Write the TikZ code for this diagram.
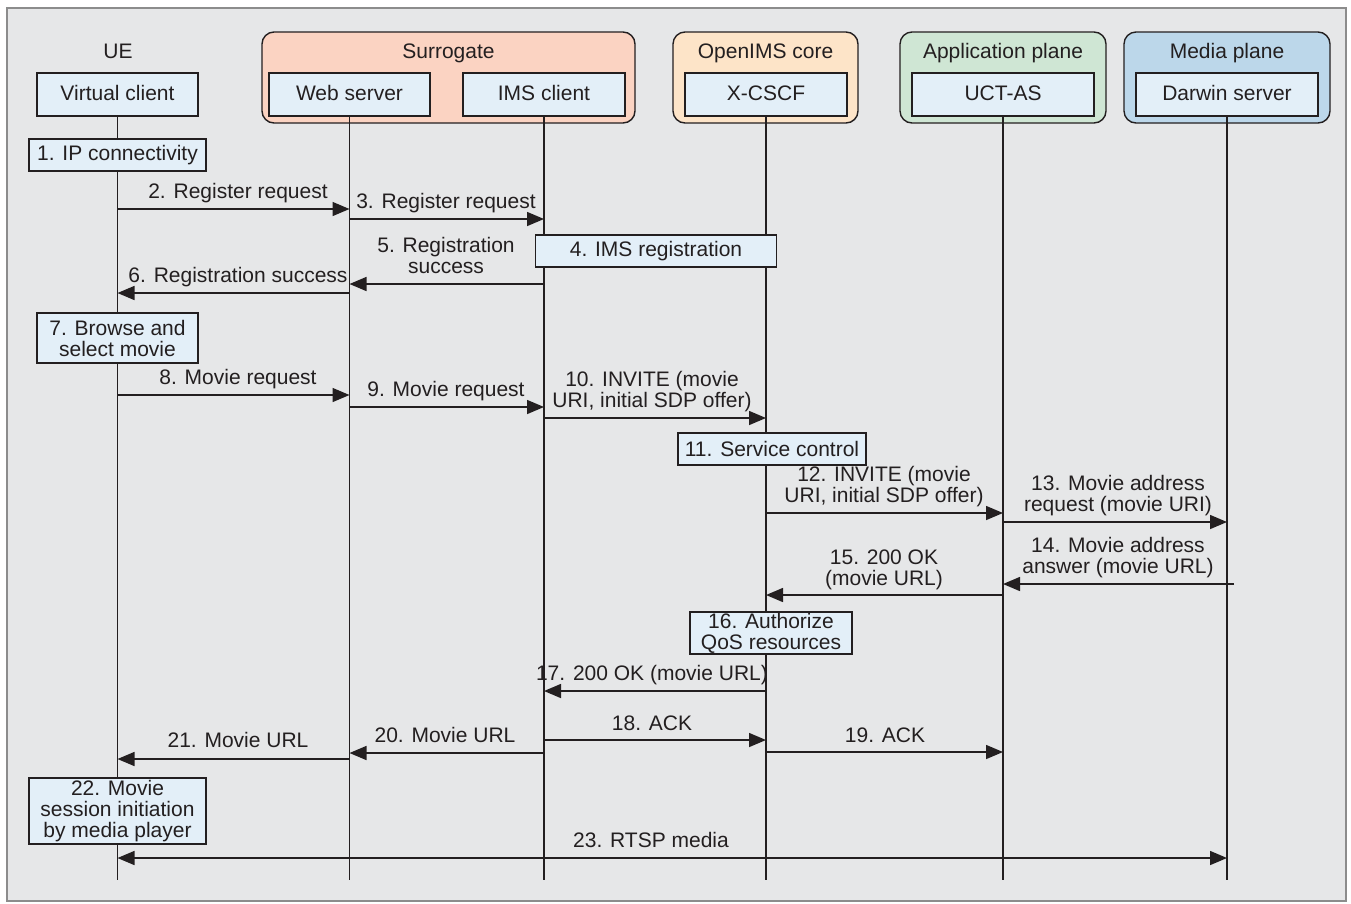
\documentclass[tikz,border=0pt]{standalone}
\usepackage{fontspec}
\setmainfont{Liberation Sans}
\usetikzlibrary{arrows.meta,calc}
\definecolor{ink}{HTML}{231F20}
\definecolor{bgfill}{HTML}{E6E7E8}
\definecolor{framegray}{HTML}{8C8C8C}
\definecolor{boxfill}{HTML}{E3EFF8}
\definecolor{surrfill}{HTML}{FBD3C2}
\definecolor{corefill}{HTML}{FDE4C8}
\definecolor{appfill}{HTML}{CFE6D4}
\definecolor{mediafill}{HTML}{BCD7EA}
\begin{document}
\begin{tikzpicture}[x=1pt,y=-1pt,
  every node/.style={font=\fontsize{21}{21}\selectfont, text=ink},
  grp/.style={draw=ink, line width=1.4pt, rounded corners=12pt, inner sep=0pt},
  entity/.style={draw=ink, line width=1.4pt, fill=boxfill, inner sep=0pt, minimum height=43pt, text height=15pt, text depth=4pt},
  title/.style={anchor=base, inner sep=0pt},
  act/.style={draw=ink, line width=1.4pt, fill=boxfill, inner sep=0pt, align=center},
  msg/.style={anchor=south, text depth=0pt, inner sep=0pt, align=center},
  life/.style={draw=ink, line width=1.2pt},
  tip/.style={},
  arr/.style={draw=ink, line width=1.5pt, -{Triangle[length=17pt,width=14pt]}},
  dblarr/.style={draw=ink, line width=1.5pt, {Triangle[length=17pt,width=14pt]}-{Triangle[length=17pt,width=14pt]}}]

\useasboundingbox (0,0) rectangle (1351,903);
\draw[fill=bgfill, draw=framegray, line width=2pt] (7,8) rectangle (1346,901);

% groups
\node[grp, fill=surrfill, minimum width=373pt, minimum height=91pt] (surr) at (448.5,77.5) {};
\node[grp, fill=corefill, minimum width=185pt, minimum height=91pt] (core) at (765.5,77.5) {};
\node[grp, fill=appfill, minimum width=206pt, minimum height=91pt] (app) at (1003,77.5) {};
\node[grp, fill=mediafill, minimum width=206pt, minimum height=91pt] (media) at (1227,77.5) {};

\node[title] (tUE) at (118,58) {UE};
\node[title] (tSurr) at (448.5,58) {Surrogate};
\node[title] (tCore) at (765.5,58) {OpenIMS core};
\node[title] (tApp) at (1003,58) {Application plane};
\node[title] (tMedia) at (1227,58) {Media plane};

% entities
\node[entity, minimum width=161pt] (ue) at (117.5,94.5) {Virtual client};
\node[entity, minimum width=161pt] (ws) at (349.5,94.5) {Web server};
\node[entity, minimum width=162pt] (ims) at (544,94.5) {IMS client};
\node[entity, minimum width=162pt] (cscf) at (766,94.5) {X-CSCF};
\node[entity, minimum width=182pt] (uct) at (1003,94.5) {UCT-AS};
\node[entity, minimum width=182pt] (dar) at (1227,94.5) {Darwin server};

% lifelines
\foreach \n in {ue,ws,ims,cscf,uct,dar}
  \draw[life] (\n.south) -- (\n.south |- 0,880);

% local actions
\node[act, minimum width=177pt, minimum height=32pt] (a1) at (117.5,155) {1. IP connectivity};
\node[act, minimum width=241pt, minimum height=32pt] (a4) at (656,251) {4. IMS registration};
\node[act, minimum width=161pt, minimum height=50pt] (a7) at (117.5,338) {7. Browse and\\select movie};
\node[act, minimum width=188pt, minimum height=32pt] (a11) at (772,449) {11. Service control};
\node[act, minimum width=162pt, minimum height=42pt] (a16) at (771,633) {16. Authorize\\QoS resources};
\node[act, minimum width=177pt, minimum height=66pt] (a22) at (117.5,811) {22. Movie\\session initiation\\by media player};

% messages
\draw[arr] (ue |- 0,209) -- (ws |- 0,209);
\node[msg] (m2) at (238,199) {2. Register request};
\draw[arr] (ws |- 0,219) -- (ims |- 0,219);
\node[msg] (m3) at (446,209) {3. Register request};
\draw[arr] (ims |- 0,284) -- (ws |- 0,284);
\node[msg] (m5) at (446,274) {5. Registration\\success};
\draw[arr] (ws |- 0,293) -- (ue |- 0,293);
\node[msg] (m6) at (238,283) {6. Registration success};

\draw[arr] (ue |- 0,395) -- (ws |- 0,395);
\node[msg] (m8) at (238,385) {8. Movie request};
\draw[arr] (ws |- 0,407) -- (ims |- 0,407);
\node[msg] (m9) at (446,397) {9. Movie request};
\draw[arr] (ims |- 0,418) -- (cscf |- 0,418);
\node[msg] (m10) at (652,408) {10. INVITE (movie\\URI, initial SDP offer)};

\draw[arr] (cscf |- 0,513) -- (uct |- 0,513);
\node[msg] (m12) at (884,503) {12. INVITE (movie\\URI, initial SDP offer)};
\draw[arr] (uct |- 0,522) -- (dar |- 0,522);
\node[msg] (m13) at (1118,512) {13. Movie address\\request (movie URI)};
\draw[arr] ($(dar |- 0,584)+(7,0)$) -- (uct |- 0,584);
\node[msg] (m14) at (1118,574) {14. Movie address\\answer (movie URL)};
\draw[arr] (uct |- 0,595) -- (cscf |- 0,595);
\node[msg] (m15) at (884,586) {15. 200 OK\\(movie URL)};

\draw[arr] (cscf |- 0,691) -- (ims |- 0,691);
\node[msg] (m17) at (652,681) {17. 200 OK (movie URL)};
\draw[arr] (ims |- 0,740) -- (cscf |- 0,740);
\node[msg] (m18) at (652,731) {18. ACK};
\draw[arr] (cscf |- 0,752) -- (uct |- 0,752);
\node[msg] (m19) at (885,743) {19. ACK};
\draw[arr] (ims |- 0,753) -- (ws |- 0,753);
\node[msg] (m20) at (445,743) {20. Movie URL};
\draw[arr] (ws |- 0,759) -- (ue |- 0,759);
\node[msg] (m21) at (238,748) {21. Movie URL};

\draw[dblarr] (ue |- 0,858) -- (dar |- 0,858);
\node[msg] (m23) at (651,848) {23. RTSP media};
\end{tikzpicture}
\end{document}
